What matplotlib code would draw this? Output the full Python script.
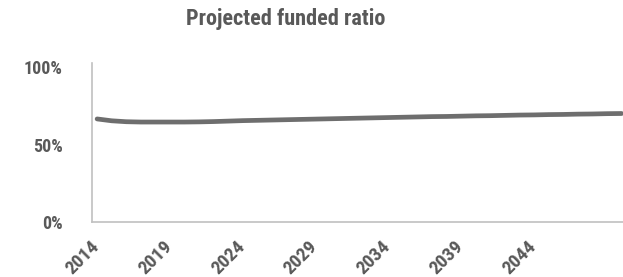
import matplotlib.pyplot as plt
from matplotlib.transforms import ScaledTranslation

plt.rcParams['font.family'] = ['Roboto Condensed', 'DejaVu Sans']

years = list(range(2014, 2051))
funded = [66.5, 65.3, 64.7, 64.5, 64.5, 64.5, 64.5, 64.6, 64.8, 65.1,
          65.4, 65.6, 65.8, 66.0, 66.2, 66.4, 66.6, 66.8, 67.0, 67.2,
          67.4, 67.6, 67.8, 68.0, 68.1, 68.3, 68.5, 68.6, 68.8, 69.0,
          69.1, 69.3, 69.4, 69.6, 69.7, 69.9, 70.0]
tick_years = [2014, 2019, 2024, 2029, 2034, 2039, 2044]
y_ticks = [0, 50, 100]
y_labels = ['0%', '50%', '100%']

txt = '#595959'

fig = plt.figure(figsize=(6.23, 2.77), dpi=100)
ax = fig.add_axes([0.1477, 0.1986, 0.8523, 0.5740])

ax.plot(years, funded, color='#6e6e6e', lw=3.4, solid_capstyle='round')

ax.set_xlim(2013.65, 2050.1)
ax.set_ylim(0, 102.6)

ax.set_yticks(y_ticks)
ax.set_yticklabels(y_labels, fontsize=13, fontweight='bold', color=txt)
ax.set_xticks(tick_years)
ax.set_xticklabels([str(y) for y in tick_years], fontsize=14, fontweight='bold',
                   color=txt, rotation=45, ha='right', va='top',
                   rotation_mode='anchor')
ax.tick_params(axis='both', length=0)
ax.tick_params(axis='x', pad=11)
ax.tick_params(axis='y', pad=21)
# nudge the rotated year labels left of their ticks
for lab in ax.get_xticklabels():
    lab.set_transform(lab.get_transform() + ScaledTranslation(-0.07, 0, fig.dpi_scale_trans))

for s in ['top', 'right']:
    ax.spines[s].set_visible(False)
for s in ['left', 'bottom']:
    ax.spines[s].set_color('#c0c0c0')
    ax.spines[s].set_linewidth(1.2)

fig.text(0.459, 0.93, 'Projected funded ratio', ha='center', va='center',
         fontsize=16, fontweight='bold', color=txt)

fig.savefig('out.png', dpi=100)
